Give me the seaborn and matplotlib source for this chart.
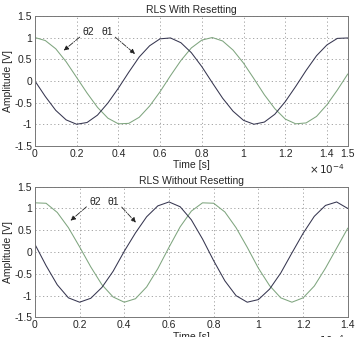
import pandas as pd
import seaborn as sns
import matplotlib.pyplot as plt

# time axis in units of 1e-4 s
t_top = [0, 0.05, 0.1, 0.15, 0.2, 0.25, 0.3, 0.35, 0.4, 0.45, 0.5, 0.55, 0.6, 0.65, 0.7, 0.75,
         0.8, 0.85, 0.9, 0.95, 1.0, 1.05, 1.1, 1.15, 1.2, 1.25, 1.3, 1.35, 1.4, 1.45, 1.5]
theta1_top = [0, -0.36, -0.68, -0.90, -1.0, -0.96, -0.79, -0.51, -0.17, 0.20, 0.55, 0.81, 0.97, 0.99, 0.88, 0.65,
              0.33, -0.04, -0.40, -0.70, -0.91, -1.0, -0.95, -0.77, -0.48, -0.13, 0.24, 0.58, 0.83, 0.98, 0.99]
theta2_top = [1.0, 0.93, 0.74, 0.44, 0.08, -0.28, -0.61, -0.86, -0.99, -0.98, -0.84, -0.58, -0.25, 0.12, 0.47, 0.76,
              0.94, 1.0, 0.92, 0.71, 0.41, 0.05, -0.32, -0.64, -0.88, -0.99, -0.97, -0.82, -0.55, -0.21, 0.16]

t_bot = t_top[:29]
theta1_bot = [0.18, -0.31, -0.75, -1.05, -1.15, -1.06, -0.81, -0.44, 0.02, 0.44, 0.81, 1.06, 1.15, 1.04, 0.74,
              0.30, -0.20, -0.66, -1.00, -1.15, -1.09, -0.85, -0.48, -0.02, 0.43, 0.82, 1.07, 1.15, 1.00]
theta2_bot = [1.13, 1.12, 0.91, 0.56, 0.12, -0.34, -0.75, -1.03, -1.15, -1.07, -0.80, -0.38, 0.11, 0.58, 0.94,
              1.13, 1.12, 0.92, 0.56, 0.11, -0.37, -0.77, -1.05, -1.15, -1.05, -0.78, -0.37, 0.09, 0.55]

yticks = [-1.5, -1, -0.5, 0, 0.5, 1, 1.5]
ytick_labels = ['-1.5', '-1', '-0.5', '0', '0.5', '1', '1.5']
xticks_top = [0, 0.2, 0.4, 0.6, 0.8, 1, 1.2, 1.4, 1.5]
xtick_labels_top = ['0', '0.2', '0.4', '0.6', '0.8', '1', '1.2', '1.4', '1.5']
xticks_bot = [0, 0.2, 0.4, 0.6, 0.8, 1, 1.2, 1.4]
xtick_labels_bot = ['0', '0.2', '0.4', '0.6', '0.8', '1', '1.2', '1.4']

sns.set_style('white')
plt.rcParams['font.family'] = ['Liberation Sans', 'DejaVu Sans']

dark = '#363650'
green = '#7fa57f'

fig = plt.figure(figsize=(3.56, 3.37), dpi=100)
ax1 = fig.add_axes([0.098, 0.567, 0.879, 0.386])
ax2 = fig.add_axes([0.098, 0.058, 0.879, 0.388])


def draw(ax, t, th1, th2, xticks, xlabels, xmax, title, ann):
    df = pd.DataFrame({'t': t, 'th1': th1, 'th2': th2})
    sns.lineplot(data=df, x='t', y='th2', ax=ax, color=green, lw=0.75)
    sns.lineplot(data=df, x='t', y='th1', ax=ax, color=dark, lw=0.75)
    ax.set_xlim(0, xmax)
    ax.set_ylim(-1.5, 1.5)
    ax.set_xticks(xticks)
    ax.set_xticklabels(xlabels)
    ax.set_yticks(yticks)
    ax.set_yticklabels(ytick_labels)
    ax.tick_params(labelsize=7.5, length=2, direction='in', pad=2)
    ax.grid(True, ls=(0, (1.5, 3)), color='#999999', lw=0.6)
    for s in ax.spines.values():
        s.set_color('#777777')
        s.set_linewidth(0.7)
    ax.set_title(title, fontsize=7.5, pad=2)
    ax.set_xlabel('Time [s]', fontsize=7.5, labelpad=1)
    ax.set_ylabel('Amplitude [V]', fontsize=7.5, labelpad=1)
    for txt, pos, head in ann:
        ax.text(pos[0], pos[1], txt, fontsize=7.5, ha='center', va='center')
        ax.annotate('', xy=head, xytext=(pos[0] + (-0.03 if head[0] < pos[0] else 0.03), pos[1] - 0.08),
                    arrowprops=dict(arrowstyle='-|>', ls='-.', color='#222222', lw=0.6,
                                    mutation_scale=7))
    ax.text(0.99, -0.175, r'$\times\,10^{-4}$', transform=ax.transAxes, fontsize=7.5,
            ha='right', va='center')


draw(ax1, t_top, theta1_top, theta2_top, xticks_top, xtick_labels_top, 1.5, 'RLS With Resetting',
     [('θ2', (0.255, 1.13), (0.128, 0.66)), ('θ1', (0.345, 1.13), (0.49, 0.58))])
draw(ax2, t_bot, theta1_bot, theta2_bot, xticks_bot, xtick_labels_bot, 1.4, 'RLS Without Resetting',
     [('θ2', (0.27, 1.16), (0.15, 0.68)), ('θ1', (0.35, 1.16), (0.46, 0.63))])

fig.savefig('out.png', dpi=100)
